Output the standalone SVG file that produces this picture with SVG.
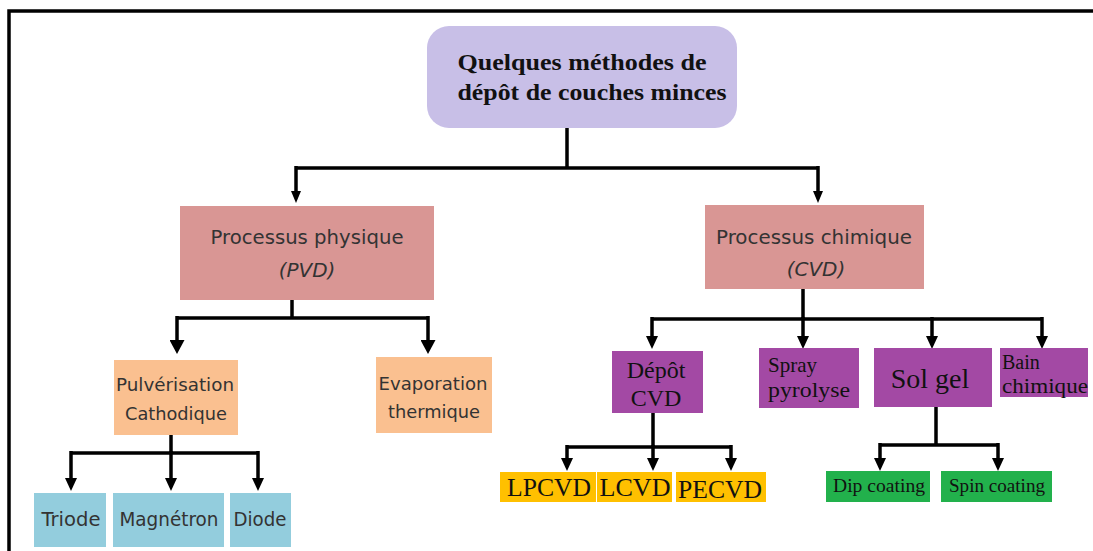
<svg xmlns="http://www.w3.org/2000/svg" width="1093" height="551" viewBox="0 0 1093 551">
<style>
.frame{fill:none;stroke:#000;stroke-width:3.5}
.ln{fill:none;stroke:#000;stroke-width:3.5}
.comic{font-family:"DejaVu Sans","Liberation Sans",sans-serif;fill:#333;text-anchor:middle}
.serif{font-family:"Liberation Serif","Times New Roman",serif;fill:#111}
.mid{text-anchor:middle}
</style>
<defs>
<marker id="ahS" viewBox="0 0 10 10" refX="0" refY="5" markerUnits="userSpaceOnUse" markerWidth="12" markerHeight="10" preserveAspectRatio="none" orient="auto"><path d="M0,0 L10,5 L0,10 z" fill="#000"/></marker>
<marker id="ahL" viewBox="0 0 10 10" refX="0" refY="5" markerUnits="userSpaceOnUse" markerWidth="14" markerHeight="15" preserveAspectRatio="none" orient="auto"><path d="M0,0 L10,5 L0,10 z" fill="#000"/></marker>
<marker id="ahM" viewBox="0 0 10 10" refX="0" refY="5" markerUnits="userSpaceOnUse" markerWidth="13" markerHeight="12" preserveAspectRatio="none" orient="auto"><path d="M0,0 L10,5 L0,10 z" fill="#000"/></marker>
</defs>
<rect width="1093" height="551" fill="#fff"/>
<path class="frame" d="M9,551 V11 H1093"/>

<g id="connectors">
<path class="ln" d="M567,128 V168 M296,168 H818"/>
<path class="ln" d="M296,166 V191" marker-end="url(#ahS)"/>
<path class="ln" d="M818,166 V191" marker-end="url(#ahS)"/>

<path class="ln" d="M292,300 V318 M177,318 H428"/>
<path class="ln" d="M177,316 V340" marker-end="url(#ahL)"/>
<path class="ln" d="M428,316 V340" marker-end="url(#ahL)"/>

<path class="ln" d="M171,435 V453 M71,453 H258"/>
<path class="ln" d="M71,451 V478" marker-end="url(#ahM)"/>
<path class="ln" d="M171,451 V478" marker-end="url(#ahM)"/>
<path class="ln" d="M258,451 V478" marker-end="url(#ahM)"/>

<path class="ln" d="M803,289 V319 M652,319 H1042"/>
<path class="ln" d="M652,317 V336" marker-end="url(#ahM)"/>
<path class="ln" d="M803,317 V336" marker-end="url(#ahM)"/>
<path class="ln" d="M932,317 V336" marker-end="url(#ahM)"/>
<path class="ln" d="M1042,317 V336" marker-end="url(#ahM)"/>

<path class="ln" d="M653,413 V447 M567,447 H731"/>
<path class="ln" d="M567,445 V458" marker-end="url(#ahM)"/>
<path class="ln" d="M653,445 V458" marker-end="url(#ahM)"/>
<path class="ln" d="M731,445 V458" marker-end="url(#ahM)"/>

<path class="ln" d="M936,407 V445 M880,445 H998"/>
<path class="ln" d="M880,443 V458" marker-end="url(#ahM)"/>
<path class="ln" d="M998,443 V458" marker-end="url(#ahM)"/>
</g>

<g id="root">
<rect x="427" y="26" width="310" height="102" rx="22" fill="#c8bfe7"/>
<text class="serif mid" x="582" y="70" font-size="23" font-weight="bold" textLength="249" lengthAdjust="spacingAndGlyphs">Quelques méthodes de</text>
<text class="serif mid" x="592" y="100" font-size="23" font-weight="bold" textLength="269" lengthAdjust="spacingAndGlyphs">dépôt de couches minces</text>
</g>

<g id="pvd">
<rect x="180" y="206" width="254" height="94" fill="#d99694"/>
<text class="comic" x="307" y="244" font-size="19" textLength="193" lengthAdjust="spacingAndGlyphs">Processus physique</text>
<text class="comic" x="307" y="277" font-size="20" font-style="italic">(PVD)</text>
</g>

<g id="cvd">
<rect x="705" y="205" width="219" height="84" fill="#d99694"/>
<text class="comic" x="814" y="244" font-size="19" textLength="196" lengthAdjust="spacingAndGlyphs">Processus chimique</text>
<text class="comic" x="816" y="276" font-size="20" font-style="italic">(CVD)</text>
</g>

<g id="pulverisation">
<rect x="114" y="360" width="124" height="75" fill="#fac090"/>
<text class="comic" x="175" y="391" font-size="18" textLength="118" lengthAdjust="spacingAndGlyphs">Pulvérisation</text>
<text class="comic" x="176" y="420" font-size="18" textLength="102" lengthAdjust="spacingAndGlyphs">Cathodique</text>
</g>

<g id="evaporation">
<rect x="376" y="357" width="116" height="76" fill="#fac090"/>
<text class="comic" x="433" y="390" font-size="18" textLength="109" lengthAdjust="spacingAndGlyphs">Evaporation</text>
<text class="comic" x="434" y="418" font-size="18" textLength="92" lengthAdjust="spacingAndGlyphs">thermique</text>
</g>

<g id="triode">
<rect x="34" y="493" width="72" height="54" fill="#93cddd"/>
<text class="comic" x="71" y="526" font-size="19" textLength="59" lengthAdjust="spacingAndGlyphs">Triode</text>
</g>
<g id="magnetron">
<rect x="113" y="493" width="111" height="54" fill="#93cddd"/>
<text class="comic" x="169" y="526" font-size="19" textLength="99" lengthAdjust="spacingAndGlyphs">Magnétron</text>
</g>
<g id="diode">
<rect x="230" y="493" width="61" height="54" fill="#93cddd"/>
<text class="comic" x="260" y="526" font-size="19" textLength="53" lengthAdjust="spacingAndGlyphs">Diode</text>
</g>

<g id="depot-cvd">
<rect x="612" y="351" width="91" height="62" fill="#a349a4"/>
<text class="serif mid" x="656" y="378" font-size="24">Dépôt</text>
<text class="serif mid" x="656" y="406" font-size="24">CVD</text>
</g>
<g id="spray">
<rect x="759" y="348" width="100" height="60" fill="#a349a4"/>
<text class="serif" x="768" y="372" font-size="21">Spray</text>
<text class="serif" x="768" y="397" font-size="21" textLength="82" lengthAdjust="spacingAndGlyphs">pyrolyse</text>
</g>
<g id="solgel">
<rect x="874" y="348" width="118" height="59" fill="#a349a4"/>
<text class="serif mid" x="930" y="388" font-size="28">Sol gel</text>
</g>
<g id="bain">
<rect x="1000" y="348" width="88" height="49" fill="#a349a4"/>
<text class="serif" x="1002" y="369" font-size="20">Bain</text>
<text class="serif" x="1002" y="393" font-size="20" textLength="86" lengthAdjust="spacingAndGlyphs">chimique</text>
</g>

<g id="lpcvd">
<rect x="500" y="472" width="96" height="30" fill="#ffc000"/>
<text class="serif mid" x="549" y="496" font-size="26" textLength="84" lengthAdjust="spacingAndGlyphs">LPCVD</text>
</g>
<g id="lcvd">
<rect x="597" y="472" width="75" height="30" fill="#ffc000"/>
<text class="serif mid" x="635" y="496" font-size="26" textLength="71" lengthAdjust="spacingAndGlyphs">LCVD</text>
</g>
<g id="pecvd">
<rect x="676" y="472" width="90" height="30" fill="#ffc000"/>
<text class="serif mid" x="720" y="498" font-size="26" textLength="84" lengthAdjust="spacingAndGlyphs">PECVD</text>
</g>

<g id="dip">
<rect x="826" y="471" width="104" height="31" fill="#22b14c"/>
<text class="serif mid" x="879" y="492" font-size="19" textLength="92" lengthAdjust="spacingAndGlyphs">Dip coating</text>
</g>
<g id="spin">
<rect x="941" y="471" width="111" height="31" fill="#22b14c"/>
<text class="serif mid" x="997" y="492" font-size="19" textLength="96" lengthAdjust="spacingAndGlyphs">Spin coating</text>
</g>
</svg>
